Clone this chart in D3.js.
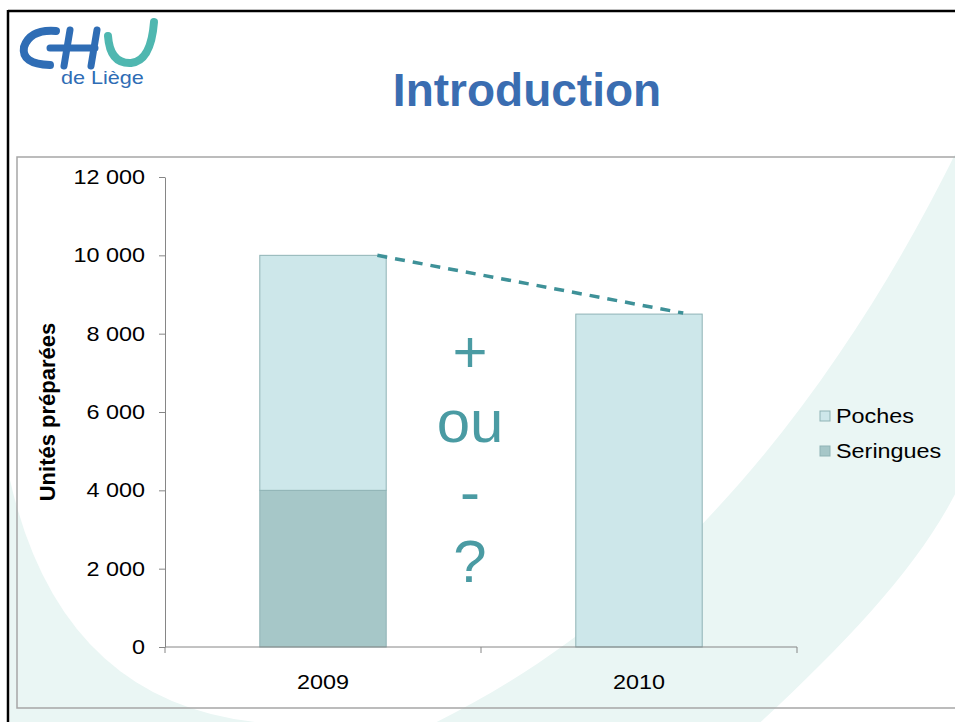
<!DOCTYPE html>
<html>
<head>
<meta charset="utf-8">
<script src="https://cdn.jsdelivr.net/npm/d3@7"></script>
<style>
  body { margin: 0; background: #fff; }
  text { font-family: Arial, "Liberation Sans", sans-serif; }
</style>
</head>
<body>
<div id="slide"></div>
<script>
// chart data
const years = ["2009", "2010"]
const seriesNames = ["Poches", "Seringues"]
const poches = [6000, 8500]
const seringues = [4000, 0]
const yTicks = [0, 2000, 4000, 6000, 8000, 10000, 12000]
const questionLines = ["+", "ou", "-", "?"]

const W = 955, H = 722
const stretch = 1.17 // the chart picture is a bit wider than tall

let svg = d3.select("#slide")
    .append("svg")
    .attr("width", W)
    .attr("height", H)

// slide background swooshes
svg.append("path")
    .attr("d", "M10,480 Q60,700 255,722 L10,722 Z")
    .style("fill", "#eaf6f4")
svg.append("path")
    .attr("d", "M962,140 C870,330 700,600 420,730 L752,730 C850,640 925,560 962,480 Z")
    .style("fill", "#eaf6f4")

// slide frame
svg.append("line").attr("x1", 8).attr("x2", 8).attr("y1", 10).attr("y2", H)
    .style("stroke", "#000").style("stroke-width", 2.5)
svg.append("line").attr("x1", 8).attr("x2", W).attr("y1", 11).attr("y2", 11)
    .style("stroke", "#000").style("stroke-width", 2.5)

// chart area border
svg.append("rect")
    .attr("x", 17).attr("y", 157)
    .attr("width", W).attr("height", 551)
    .style("fill", "none")
    .style("stroke", "#a6a6a6")
    .style("stroke-width", 1.5)

// logo (C, H and U drawn as strokes like the original mark)
let logo = svg.append("g")
    .style("fill", "none")
    .style("stroke-linecap", "round")
logo.append("path")
    .attr("d", "M56,31 Q30,29 24,47 Q21,64 50,65")
    .style("stroke", "#2f6db5")
    .style("stroke-width", 8)
logo.append("path")
    .attr("d", "M70,30 L64,66 M97,30 L91,66 M50,48 L95,48")
    .style("stroke", "#2f6db5")
    .style("stroke-width", 7)
logo.append("path")
    .attr("d", "M108,36 Q110,64 131,63 Q151,61 154,22")
    .style("stroke", "#4fb7b0")
    .style("stroke-width", 8)
svg.append("text")
    .attr("transform", "translate(61,84) scale(1.2,1)")
    .text("de Liège")
    .style("font-size", "18px")
    .style("fill", "#2f6db5")

// title
svg.append("text")
    .attr("x", 527).attr("y", 106)
    .attr("text-anchor", "middle")
    .text("Introduction")
    .style("font-size", "46px")
    .style("font-weight", "bold")
    .style("fill", "#3a6db1")

// scales
let x = d3.scaleBand()
    .domain(years)
    .range([165, 797])
    .paddingInner(0.6)
    .paddingOuter(0.3)

let y = d3.scaleLinear()
    .domain([0, 12000])
    .range([647, 177])

let rows = years.map((yr, i) => ({ year: yr, Poches: poches[i], Seringues: seringues[i] }))
let stacked = d3.stack().keys(["Seringues", "Poches"])(rows)

let colors = { Poches: "#cde7ea", Seringues: "#a6c7c8" }

let fr = d3.formatLocale({ decimal: ",", thousands: " ", grouping: [3], currency: ["", " €"] })

// y axis
let yAxis = svg.append("g")
    .attr("transform", "translate(165,0)")
    .call(d3.axisLeft(y).tickValues(yTicks).tickSize(6).tickSizeOuter(0).tickFormat(fr.format(",")))
yAxis.select(".domain").style("stroke", "#868686")
yAxis.selectAll(".tick line").style("stroke", "#868686")
yAxis.selectAll(".tick text")
    .attr("x", -17)
    .attr("transform", "scale(" + stretch + ",1)")
    .style("font-size", "20px")
    .style("fill", "#000")

// bars
svg.append("g")
    .selectAll("g")
    .data(stacked)
    .enter()
    .append("g")
    .style("fill", d => colors[d.key])
    .selectAll("rect")
    .data(d => d.filter(p => p[1] > p[0]))
    .enter()
    .append("rect")
    .attr("x", d => x(d.data.year))
    .attr("width", x.bandwidth())
    .attr("y", d => y(d[1]))
    .attr("height", d => y(d[0]) - y(d[1]))
    .style("stroke", "#8fb3b5")
    .style("stroke-width", 1)

// x axis
let xAxis = svg.append("g")
    .attr("transform", "translate(0,647)")
xAxis.append("line")
    .attr("x1", x.range()[0]).attr("x2", x.range()[1])
    .style("stroke", "#868686")
xAxis.selectAll(".sep")
    .data(d3.range(years.length + 1))
    .enter()
    .append("line")
    .attr("x1", i => x.range()[0] + i * x.step())
    .attr("x2", i => x.range()[0] + i * x.step())
    .attr("y1", 0).attr("y2", 6)
    .style("stroke", "#868686")
xAxis.selectAll(".lbl")
    .data(years)
    .enter()
    .append("text")
    .attr("transform", d => "translate(" + (x(d) + x.bandwidth() / 2) + ",42) scale(" + stretch + ",1)")
    .attr("text-anchor", "middle")
    .text(d => d)
    .style("font-size", "20px")

// y axis title
svg.append("text")
    .attr("transform", "translate(55,412) rotate(-90)")
    .attr("text-anchor", "middle")
    .text("Unités préparées")
    .style("font-size", "22px")
    .style("font-weight", "bold")

// dashed trend line between the two totals
let totals = years.map((yr, i) => poches[i] + seringues[i])
svg.append("line")
    .attr("x1", x(years[0]) + x.bandwidth() * 0.93)
    .attr("y1", y(totals[0]))
    .attr("x2", x(years[1]) + x.bandwidth() * 0.85)
    .attr("y2", y(totals[1]) - 1)
    .style("stroke", "#3e9198")
    .style("stroke-width", 3.5)
    .style("stroke-dasharray", "10,8")

// "+ ou - ?" annotation
svg.selectAll(".q")
    .data(questionLines)
    .enter()
    .append("text")
    .attr("x", 470)
    .attr("y", (d, i) => 372 + i * 70)
    .attr("text-anchor", "middle")
    .text(d => d)
    .style("font-size", "60px")
    .style("fill", "#4a9ba3")

// legend
let legend = svg.selectAll(".legend")
    .data(seriesNames)
    .enter()
    .append("g")
    .attr("transform", (d, i) => "translate(820," + (416 + i * 35) + ")")
legend.append("rect")
    .attr("x", 0).attr("y", -5)
    .attr("width", 10).attr("height", 10)
    .style("fill", d => colors[d])
    .style("stroke", "#8fb3b5")
legend.append("text")
    .attr("transform", "translate(16,7) scale(" + stretch + ",1)")
    .text(d => d)
    .style("font-size", "20px")
</script>
</body>
</html>
